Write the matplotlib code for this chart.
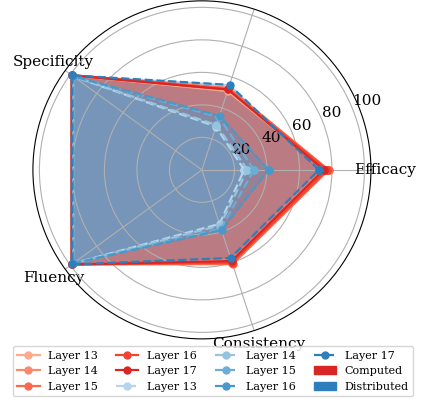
import numpy as np
import matplotlib
matplotlib.use("Agg")
import matplotlib.pyplot as plt
from matplotlib.patches import Patch

plt.rcParams['font.family'] = 'DejaVu Serif'

metrics = ['Efficacy', '', 'Specificity', 'Fluency', 'Consistency']
layers = [13, 14, 15, 16, 17]

# Computed (red), one row per layer
computed = [
    [76, 51, 99, 99, 59],
    [77, 52, 99, 99, 60],
    [78, 53, 99, 99, 61],
    [77, 52, 99, 99, 60],
    [75, 52, 99, 99, 59],
]
# Distributed (blue)
distributed = [
    [26, 28, 98, 98, 35],
    [28, 29, 98, 98, 36],
    [32, 34, 98, 98, 38],
    [41, 35, 98, 98, 39],
    [72, 55, 99, 99, 57],
]

angles = np.linspace(0, 2 * np.pi, len(metrics), endpoint=False)
ang = np.concatenate([angles, angles[:1]])

reds = plt.cm.Reds(np.linspace(0.3, 0.7, 5))
blues = plt.cm.Blues(np.linspace(0.3, 0.7, 5))

fig = plt.figure(figsize=(4.22, 4.03), dpi=100)
ax = fig.add_axes([0.078, 0.159, 0.801, 0.839], polar=True)

handles = []
for i, l in enumerate(layers):
    v = np.array(computed[i] + computed[i][:1])
    h, = ax.plot(ang, v, '-o', color=reds[i], lw=1.6, ms=5, label=f'Layer {l}')
    ax.fill(ang, v, color=reds[i], alpha=0.25)
    handles.append(h)
for i, l in enumerate(layers):
    v = np.array(distributed[i] + distributed[i][:1])
    h, = ax.plot(ang, v, '--o', color=blues[i], lw=1.6, ms=5, label=f'Layer {l}')
    ax.fill(ang, v, color=blues[i], alpha=0.28)
    handles.append(h)

handles.append(Patch(color=plt.cm.Reds(0.7), label='Computed'))
handles.append(Patch(color=plt.cm.Blues(0.7), label='Distributed'))

ax.set_ylim(0, 104)
ax.set_yticks([20, 40, 60, 80, 100])
ax.set_yticklabels(['20', '40', '60', '80', '100'], fontsize=11)
ax.set_xticks(angles)
ax.set_xticklabels(metrics, fontsize=11)
ax.tick_params(axis='x', pad=0)
ax.grid(color='#b0b0b0', lw=0.8)

fig.legend(handles=handles, loc='lower center', ncol=4, fontsize=8,
           bbox_to_anchor=(0.505, 0.003), handlelength=2.0, columnspacing=1.6)

fig.savefig('out.png', dpi=100)
